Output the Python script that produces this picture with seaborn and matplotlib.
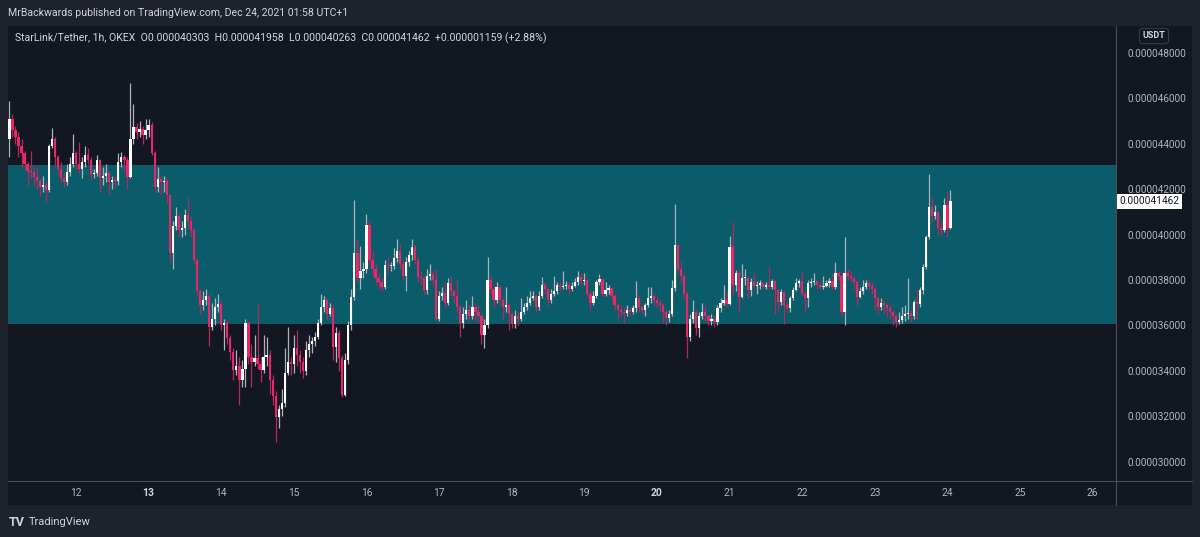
import numpy as np
import pandas as pd
import matplotlib
matplotlib.use("Agg")
import matplotlib.pyplot as plt
import matplotlib.dates as mdates
from matplotlib.patches import Rectangle
from matplotlib.lines import Line2D
import seaborn as sns

# ---------------- data (prices in micro-USDT, 1h candles from 2021-12-11 02:00 UTC+1) ----------------
start_time = "2021-12-11 02:00"
first_open = 44.2

close_u = [
    # Dec 11
    45.1, 44.6, 44.3, 43.9, 43.6, 43.1, 42.8, 42.75, 42.55, 42.35, 42.1, 42.2, 41.95, 43.9, 44.2, 43.4, 42.9, 42.5, 42.3, 42.75, 43.1, 43.6,
    # Dec 12
    43.1, 42.9, 43.2, 43.5, 43.3, 42.65, 42.7, 43.3, 42.5, 42.6, 42.7, 42.3, 42.4, 42.35, 43.2, 43.4, 43.3, 42.55, 44.2, 44.75, 44.5, 44.65, 44.4, 44.6,
    # Dec 13
    44.85, 43.6, 42.1, 42.45, 42.3, 42.35, 41.75, 39.2, 40.4, 40.8, 40.2, 40.3, 40.85, 40.6, 40.2, 38.9, 37.5, 36.9, 37.1, 37.3, 35.95, 36.3, 36.8, 36.95,
    # Dec 14
    36.0, 36.1, 35.45, 34.85, 34.05, 34.2, 33.6, 34.1, 36.1, 34.6, 34.4, 34.55, 34.3, 34.05, 34.6, 34.7, 33.6, 32.9, 31.95, 32.3, 32.6, 33.9, 34.4, 34.3,
    # Dec 15
    35.0, 34.7, 34.4, 34.0, 34.9, 35.2, 35.3, 35.5, 36.1, 36.8, 37.1, 36.5, 36.75, 35.06, 35.65, 34.55, 32.93, 34.5, 36.0, 37.27, 39.18, 38.1, 38.4, 38.5,
    # Dec 16
    40.43, 38.9, 38.5, 38.1, 37.9, 37.7, 38.67, 38.6, 38.6, 38.95, 39.3, 38.7, 38.2, 38.8, 39.1, 39.47, 38.9, 38.15, 38.1, 37.56, 38.2, 38.25, 38.0, 36.3,
    # Dec 17
    37.3, 37.42, 37.0, 37.86, 37.5, 37.3, 36.8, 36.1, 36.5, 36.7, 36.4, 36.8, 36.6, 36.4, 35.6, 36.0, 38.0, 37.6, 37.12, 37.7, 37.1, 36.8, 36.9, 36.5,
    # Dec 18
    36.05, 36.4, 36.3, 36.6, 36.8, 37.0, 37.2, 37.3, 36.8, 37.3, 37.8, 37.6, 37.1, 37.4, 37.5, 37.8, 37.7, 37.75, 37.8, 37.6, 37.75, 37.9, 38.15, 37.95,
    # Dec 19
    38.0, 37.4, 37.0, 37.3, 37.9, 38.05, 37.4, 37.55, 37.65, 37.3, 36.9, 36.7, 36.6, 36.55, 36.7, 36.6, 36.75, 37.2, 36.8, 36.7, 36.9, 37.2, 37.3, 37.1,
    # Dec 20
    37.0, 36.9, 36.6, 36.35, 36.5, 37.63, 39.54, 38.5, 38.2, 37.4, 35.5, 36.3, 36.6, 35.9, 36.4, 36.6, 36.4, 36.2, 36.3, 36.15, 36.75, 37.0, 37.12, 36.95,
    # Dec 21
    39.47, 37.78, 38.3, 37.27, 38.07, 38.1, 37.56, 37.93, 37.75, 37.8, 37.85, 37.7, 37.8, 37.7, 37.95, 37.56, 37.05, 37.49, 36.9, 36.75, 37.2, 37.56, 37.85, 37.95,
    # Dec 22
    37.4, 37.2, 37.85, 37.9, 37.95, 37.8, 37.7, 37.75, 37.85, 37.95, 37.7, 38.29, 38.2, 36.6, 38.3, 38.2, 38.1, 37.9, 37.27, 37.5, 37.7, 37.85, 37.75, 37.6,
    # Dec 23
    37.2, 36.83, 37.0, 36.9, 36.75, 36.6, 36.4, 36.15, 36.25, 36.4, 36.5, 36.55, 36.4, 37.05, 36.95, 37.56, 38.59, 39.88, 41.23, 40.8, 41.0, 40.28, 40.2, 41.3,
    # Dec 24
    40.303, 41.462,
]

high_u = [
    45.9, 45.3, 44.8, 44.5, 44.2, 43.7, 43.2, 43.7, 43.0, 43.0, 42.5, 42.6, 42.3, 44.0, 44.7, 44.3, 43.5, 43.2, 42.7, 43.1, 43.4, 44.45,
    43.7, 44.1, 43.4, 43.9, 43.8, 43.4, 42.9, 43.5, 43.35, 43.0, 43.1, 42.8, 42.6, 42.6, 43.6, 43.65, 43.5, 43.4, 46.7, 45.75, 44.9, 45.0, 44.8, 45.1,
    45.1, 44.95, 43.7, 43.0, 42.6, 42.6, 42.5, 41.8, 40.6, 41.2, 40.9, 40.6, 41.15, 41.6, 40.8, 40.3, 39.0, 37.6, 37.5, 37.6, 37.4, 37.0, 37.2, 37.4,
    37.1, 36.3, 36.2, 35.6, 35.0, 34.9, 34.6, 34.5, 36.3, 36.2, 35.2, 35.6, 37.0, 34.6, 35.6, 35.5, 34.9, 33.8, 33.1, 32.5, 33.2, 35.0, 35.95, 34.6,
    35.6, 35.8, 34.9, 34.6, 35.3, 35.6, 35.5, 35.7, 36.3, 37.4, 37.3, 37.2, 37.0, 36.9, 35.95, 35.8, 34.7, 34.8, 36.2, 37.6, 41.52, 39.8, 39.5, 38.8,
    40.9, 40.6, 39.3, 38.7, 38.3, 38.1, 38.9, 39.0, 38.8, 39.4, 39.8, 39.6, 38.9, 39.0, 39.3, 39.8, 39.6, 39.0, 38.4, 38.2, 38.5, 38.7, 38.4, 38.5,
    37.5, 37.7, 37.9, 38.1, 38.2, 37.6, 38.0, 36.9, 36.8, 37.1, 36.9, 37.3, 37.0, 36.9, 36.5, 36.3, 39.0, 38.2, 37.8, 37.9, 37.8, 37.2, 37.7, 37.0,
    36.6, 36.7, 36.6, 37.2, 37.0, 37.3, 37.5, 37.5, 37.4, 37.5, 38.15, 37.9, 37.7, 37.6, 38.2, 37.9, 37.9, 38.4, 37.95, 37.9, 37.9, 38.1, 38.4, 38.3,
    38.3, 38.1, 37.5, 37.5, 38.0, 38.25, 38.1, 37.9, 37.8, 37.7, 37.4, 37.0, 36.9, 36.8, 36.9, 36.8, 36.9, 37.95, 37.3, 36.9, 37.0, 37.7, 37.7, 37.4,
    37.3, 37.1, 37.0, 36.7, 36.7, 38.0, 41.35, 39.6, 38.8, 38.3, 37.5, 36.5, 37.1, 36.7, 36.6, 37.0, 36.9, 36.5, 36.5, 36.4, 36.9, 37.2, 37.8, 37.5,
    39.95, 40.57, 38.45, 38.5, 38.7, 38.5, 38.2, 38.1, 38.3, 37.95, 38.0, 37.9, 37.9, 38.6, 38.05, 38.0, 37.6, 37.6, 37.5, 37.0, 37.3, 37.7, 38.1, 38.05,
    38.35, 37.5, 38.0, 38.1, 38.3, 38.0, 37.9, 38.2, 38.0, 38.1, 38.3, 38.8, 38.4, 38.35, 39.91, 38.5, 38.4, 38.2, 38.0, 37.7, 38.0, 38.0, 38.0, 37.9,
    37.7, 37.3, 37.2, 37.1, 37.0, 36.9, 36.7, 36.5, 36.6, 36.8, 36.9, 38.1, 36.7, 37.1, 37.6, 37.7, 38.7, 40.0, 42.67, 41.66, 41.3, 41.1, 40.6, 41.6,
    41.9, 41.958,
]

low_u = [
    43.4, 44.3, 44.0, 43.4, 43.0, 42.9, 42.2, 42.5, 42.2, 42.0, 41.7, 41.9, 41.45, 41.9, 43.8, 43.0, 42.6, 42.3, 42.1, 42.2, 42.6, 43.0,
    42.9, 42.7, 42.5, 43.0, 43.1, 42.4, 42.5, 42.6, 41.9, 42.2, 42.3, 41.8, 42.0, 42.1, 42.2, 43.0, 42.8, 42.0, 42.5, 44.0, 44.2, 44.3, 44.0, 44.2,
    44.3, 43.5, 41.9, 41.9, 41.8, 41.9, 41.4, 38.8, 38.5, 40.2, 39.9, 39.9, 40.0, 40.3, 39.9, 38.7, 37.3, 36.5, 36.7, 36.9, 35.1, 35.8, 36.0, 36.6,
    35.8, 34.9, 35.2, 34.5, 33.6, 33.8, 32.5, 33.3, 33.3, 34.3, 33.3, 34.2, 34.1, 33.5, 33.9, 34.2, 33.0, 32.5, 30.85, 31.5, 32.0, 32.4, 33.8, 33.8,
    33.9, 34.2, 33.9, 33.7, 33.8, 34.6, 34.8, 35.1, 35.4, 36.0, 36.6, 36.3, 36.4, 34.5, 34.4, 34.0, 32.85, 32.9, 34.3, 35.8, 37.1, 37.9, 37.6, 38.1,
    38.3, 38.7, 38.2, 37.8, 37.6, 37.5, 37.6, 38.3, 38.4, 38.5, 38.8, 38.5, 38.0, 37.5, 38.6, 38.9, 38.7, 37.9, 37.8, 37.4, 37.4, 38.0, 37.8, 36.2,
    36.2, 37.1, 36.8, 36.9, 37.3, 37.0, 36.6, 35.5, 35.9, 36.3, 36.2, 36.3, 36.2, 36.1, 35.2, 35.0, 35.9, 37.4, 36.8, 37.0, 36.9, 36.3, 36.6, 35.8,
    35.9, 35.9, 36.0, 36.2, 36.5, 36.7, 36.9, 37.1, 36.6, 36.7, 37.2, 37.4, 36.9, 37.0, 37.3, 37.4, 37.5, 37.6, 37.6, 37.4, 37.5, 37.7, 37.8, 37.8,
    37.8, 37.3, 36.7, 36.9, 37.2, 37.8, 37.3, 37.3, 37.4, 37.1, 36.7, 36.2, 36.4, 36.1, 36.4, 36.4, 36.5, 36.6, 36.6, 36.5, 36.4, 36.8, 37.0, 36.9,
    36.8, 36.6, 36.1, 36.0, 36.15, 36.4, 37.5, 38.3, 37.9, 37.2, 34.55, 35.3, 36.1, 35.6, 35.5, 36.3, 36.2, 36.0, 36.0, 35.95, 36.0, 36.6, 36.9, 36.8,
    36.9, 37.4, 37.5, 36.6, 37.2, 37.8, 37.2, 37.3, 37.6, 37.4, 37.6, 37.6, 37.6, 37.6, 37.6, 36.5, 36.6, 36.9, 36.05, 36.6, 36.6, 37.1, 37.5, 37.7,
    37.3, 36.6, 36.8, 37.7, 37.8, 37.6, 37.6, 37.6, 37.7, 37.7, 37.6, 37.6, 38.0, 36.4, 36.02, 38.0, 37.9, 37.6, 36.9, 37.2, 37.4, 37.6, 37.6, 37.4,
    36.7, 36.5, 36.7, 36.5, 36.4, 36.3, 36.0, 35.95, 36.05, 36.1, 36.2, 36.3, 36.15, 36.3, 36.25, 36.8, 37.4, 38.5, 39.8, 40.6, 40.7, 40.0, 40.0, 40.1,
    39.91, 40.263,
]

zone_low_u, zone_high_u = 36.05, 43.05
y_ticks_u = [30, 32, 34, 36, 38, 40, 42, 44, 46, 48]
day_ticks = ["2021-12-%02d" % d for d in range(12, 27)]
day_labels = [str(d) for d in range(12, 27)]
bold_days = ["13", "20"]
last_price_label = "0.000041462"
title_text = "MrBackwards published on TradingView.com, Dec 24, 2021 01:58 UTC+1"
legend_text = ("StarLink/Tether, 1h, OKEX  O0.000040303  H0.000041958  "
               "L0.000040263  C0.000041462  +0.000001159 (+2.88%)")

# ---------------- style ----------------
sns.set_theme(style="dark", rc={"axes.facecolor": "#131722", "figure.facecolor": "#1e222d"})
plt.rcParams["font.family"] = ["Roboto", "DejaVu Sans"]

BG_OUT = "#1e222d"
BG_IN = "#131722"
TXT = "#d1d4dc"
AX_TXT = "#b2b5be"
UP = "#ffffff"
UP_WICK = "#aeb1b9"
DN = "#ec2566"
DN_WICK = "#b4285e"
ZONE = "#0b5c6b"
SEP = "#4a4e59"

W, H = 1200, 537
fig = plt.figure(figsize=(W / 100, H / 100), dpi=100, facecolor=BG_OUT)


def fx(px):
    return px / W


def fy(py):
    return 1 - py / H


# inner chart panel (behind everything)
panel = Rectangle((fx(8), fy(505)), (1192 - 8) / W, (505 - 26) / H,
                  transform=fig.transFigure, facecolor=BG_IN, edgecolor="none", zorder=-10)
fig.patches.append(panel)

ax = fig.add_axes([fx(8), fy(481), (1116 - 8) / W, (481 - 26) / H], zorder=1)
ax.set_facecolor(BG_IN)

df = pd.DataFrame({
    "time": pd.date_range(start_time, periods=len(close_u), freq="h"),
    "close": close_u,
    "high": high_u,
    "low": low_u,
})
df["open"] = np.r_[first_open, df["close"].values[:-1]]
df["up"] = df["close"] >= df["open"]
xt = mdates.date2num(df["time"])

ax.axhspan(zone_low_u, zone_high_u, color=ZONE, zorder=0, lw=0)

body_w = 0.74 / 24
for is_up, bc, wc in [(True, UP, UP_WICK), (False, DN, DN_WICK)]:
    m = (df["up"] == is_up).values
    ax.vlines(xt[m], df["low"].values[m], df["high"].values[m], colors=wc, lw=0.9, zorder=2)
    o = df["open"].values[m]
    c = df["close"].values[m]
    bottom = np.minimum(o, c)
    height = np.maximum(np.abs(c - o), 0.05)
    ax.bar(xt[m], height, bottom=bottom, width=body_w, color=bc, linewidth=0, zorder=3)

ax.set_ylim(29.15, 49.19)
ax.set_xlim(mdates.date2num(pd.Timestamp("2021-12-11 01:32")),
            mdates.date2num(pd.Timestamp("2021-12-26 07:42")))

ax.yaxis.tick_right()
ax.set_yticks(y_ticks_u)
ax.set_yticklabels(["%.9f" % (v * 1e-6) for v in y_ticks_u])
ax.tick_params(axis="y", length=0, pad=8, labelsize=7.2, labelcolor=AX_TXT)

ax.set_xticks(mdates.date2num(pd.to_datetime(day_ticks)))
ax.set_xticklabels(day_labels)
ax.tick_params(axis="x", length=0, pad=5, labelsize=7.4, labelcolor=AX_TXT)
for lab in ax.get_xticklabels():
    if lab.get_text() in bold_days:
        lab.set_fontweight("bold")
        lab.set_color(TXT)

for s in ax.spines.values():
    s.set_visible(False)
ax.grid(False)

# separators
fig.add_artist(Line2D([fx(1116), fx(1116)], [fy(26), fy(505)], color=SEP, lw=0.8,
                      transform=fig.transFigure, zorder=5))
fig.add_artist(Line2D([fx(8), fx(1192)], [fy(481), fy(481)], color=SEP, lw=0.8,
                      transform=fig.transFigure, zorder=5))

# last price label
ax.text(1.003, close_u[-1], last_price_label, transform=ax.get_yaxis_transform(),
        ha="left", va="center", fontsize=7.3, color=BG_IN, clip_on=False,
        bbox=dict(boxstyle="square,pad=0.28", fc="#ffffff", ec="none"), zorder=10)

# texts
fig.text(fx(8), fy(13), title_text, ha="left", va="center", fontsize=7.6, color=TXT)
fig.text(fx(15), fy(38), legend_text, ha="left", va="center", fontsize=7.6, color=TXT, zorder=6)
fig.text(fx(1154), fy(36), "USDT", ha="center", va="center", fontsize=6.5, color=TXT, fontweight="bold",
         bbox=dict(boxstyle="round,pad=0.35", fc=BG_IN, ec="#363a45", lw=0.8), zorder=6)
fig.text(fx(9), fy(522), "TV", ha="left", va="center", fontsize=9, color=TXT, fontweight="bold")
fig.text(fx(29), fy(522), "TradingView", ha="left", va="center", fontsize=8, color=TXT)

fig.savefig("out.png", dpi=100, facecolor=BG_OUT)
